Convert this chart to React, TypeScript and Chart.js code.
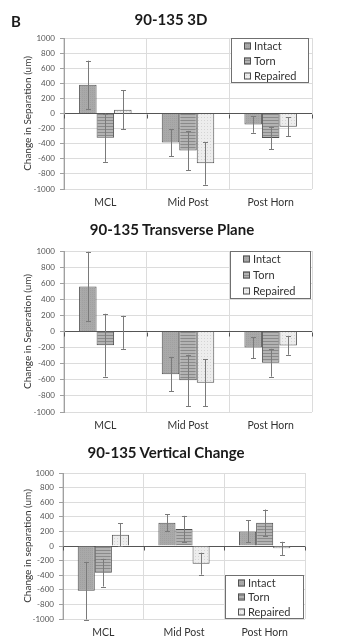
import React, { useEffect, useRef } from 'react';
import { Chart, registerables } from 'chart.js';
Chart.register(...registerables);

const categories = ['MCL', 'Mid Post', 'Post Horn'];
const seriesNames = ['Intact', 'Torn', 'Repaired'];
const yMin = -1000;
const yMax = 1000;
const yStep = 200;

// Panel 1: 90-135 3D
const intact3D = [380, -385, -145];
const torn3D = [-320, -490, -325];
const repaired3D = [50, -660, -175];
const intact3DErr = [320, 180, 110];
const torn3DErr = [320, 260, 150];
const repaired3DErr = [255, 283, 125];

// Panel 2: 90-135 Transverse Plane
const intactTP = [560, -530, -200];
const tornTP = [-170, -607, -388];
const repairedTP = [-10, -636, -174];
const intactTPErr = [430, 215, 130];
const tornTPErr = [390, 318, 173];
const repairedTPErr = [205, 290, 115];

// Panel 3: 90-135 Vertical Change
const intactVC = [-612, 320, 200];
const tornVC = [-365, 233, 320];
const repairedVC = [155, -242, -32];
const intactVCErr = [395, 115, 150];
const tornVCErr = [190, 180, 180];
const repairedVCErr = [155, 150, 90];

const FONT = 'Lato, "Open Sans", sans-serif';

function makePatterns() {
  const mk = (w: number, h: number, draw: (c: CanvasRenderingContext2D) => void) => {
    const cv = document.createElement('canvas');
    cv.width = w;
    cv.height = h;
    const c = cv.getContext('2d')!;
    draw(c);
    return c.createPattern(cv, 'repeat')!;
  };
  const intact = mk(2, 2, (c) => {
    c.fillStyle = '#a9a9a9';
    c.fillRect(0, 0, 2, 2);
    c.fillStyle = '#a0a0a0';
    c.fillRect(0, 0, 1, 1);
  });
  const torn = mk(3, 3, (c) => {
    c.fillStyle = '#b3b3b3';
    c.fillRect(0, 0, 3, 3);
    c.fillStyle = '#8a8a8a';
    c.fillRect(0, 0, 3, 1);
  });
  const repaired = mk(3, 3, (c) => {
    c.fillStyle = '#ededed';
    c.fillRect(0, 0, 3, 3);
    c.fillStyle = '#d4d4d4';
    c.fillRect(0, 0, 1, 1);
  });
  return [intact, torn, repaired];
}

type PanelProps = {
  top: number;
  height: number;
  plotLeft: number;
  plotTop: number;
  plotBottom: number;
  plotRight: number;
  yTitle: string;
  values: number[][];
  errors: number[][];
  legendRect: { x: number; y: number; w: number; h: number };
  legendRows: number[];
};

function Panel(p: PanelProps) {
  const ref = useRef<HTMLCanvasElement>(null);
  useEffect(() => {
    const patterns = makePatterns();
    const errorPlugin = {
      id: 'errbars',
      afterDatasetsDraw(chart: any) {
        const ctx = chart.ctx;
        const ys = chart.scales.y;
        const xs = chart.scales.x;
        ctx.save();
        chart.data.datasets.forEach((ds: any, di: number) => {
          const meta = chart.getDatasetMeta(di);
          meta.data.forEach((el: any, i: number) => {
            const v = ds.data[i];
            const e = ds.errors[i];
            const yt = ys.getPixelForValue(v + e);
            const yb = ys.getPixelForValue(v - e);
            const x = Math.round(el.x) + 0.5;
            ctx.strokeStyle = '#7a7a7a';
            ctx.lineWidth = 1;
            ctx.beginPath();
            ctx.moveTo(x, yt);
            ctx.lineTo(x, yb);
            ctx.moveTo(x - 2.5, Math.round(yt) + 0.5);
            ctx.lineTo(x + 2.5, Math.round(yt) + 0.5);
            ctx.moveTo(x - 2.5, Math.round(yb) + 0.5);
            ctx.lineTo(x + 2.5, Math.round(yb) + 0.5);
            ctx.stroke();
          });
        });
        const y0 = Math.round(ys.getPixelForValue(0)) + 0.5;
        ctx.strokeStyle = '#555';
        ctx.beginPath();
        for (let i = 0; i <= categories.length; i++) {
          const x = Math.round(xs.getPixelForValue(i - 0.5)) + 0.5;
          ctx.moveTo(x, y0);
          ctx.lineTo(x, y0 + 4);
        }
        ctx.stroke();
        ctx.restore();
      },
      afterDraw(chart: any) {
        const ctx = chart.ctx;
        const r = p.legendRect;
        ctx.save();
        ctx.fillStyle = '#ffffff';
        ctx.fillRect(r.x, r.y, r.w, r.h);
        ctx.strokeStyle = '#707070';
        ctx.lineWidth = 1;
        ctx.strokeRect(r.x + 0.5, r.y + 0.5, r.w - 1, r.h - 1);
        ctx.font = `11px ${FONT}`;
        ctx.textBaseline = 'middle';
        ctx.textAlign = 'left';
        seriesNames.forEach((name, i) => {
          const cy = r.y + p.legendRows[i];
          const sx = r.x + 13;
          ctx.fillStyle = patterns[i];
          ctx.fillRect(sx, cy - 3.5, 7, 7);
          ctx.strokeStyle = '#505050';
          ctx.strokeRect(sx + 0.5, cy - 3, 6, 6);
          ctx.fillStyle = '#333';
          ctx.fillText(name, sx + 10, cy + 0.5);
        });
        ctx.restore();
      },
    };
    const chart = new Chart(ref.current!, {
      type: 'bar',
      data: {
        labels: categories,
        datasets: seriesNames.map((name, i) => ({
          label: name,
          data: p.values[i],
          errors: p.errors[i],
          backgroundColor: patterns[i],
          borderColor: '#505050',
          borderWidth: 1,
          categoryPercentage: 0.635,
          barPercentage: 1,
        })) as any,
      },
      options: {
        responsive: false,
        animation: false,
        devicePixelRatio: 1,
        layout: { padding: { top: p.plotTop, left: 0, right: 361 - p.plotRight, bottom: 0 } },
        plugins: { legend: { display: false }, tooltip: { enabled: false }, title: { display: false } },
        scales: {
          x: {
            grid: { color: '#dcdcdc', drawTicks: false, offset: true },
            border: { display: false },
            ticks: { font: { family: FONT, size: 10.5 }, color: '#333', padding: 7 },
            afterFit: (s: any) => {
              s.height = p.height - p.plotBottom;
            },
          },
          y: {
            min: yMin,
            max: yMax,
            ticks: {
              stepSize: yStep,
              font: { family: FONT, size: 8 },
              color: '#555',
              padding: 5,
              callback: (v: any) => String(v),
            },
            grid: {
              color: (c: any) => (c.tick && c.tick.value === 0 ? '#555' : '#dcdcdc'),
              tickLength: 4,
              tickColor: '#a0a0a0',
            },
            border: { color: '#a0a0a0' },
            title: {
              display: true,
              text: p.yTitle,
              font: { family: FONT, size: 10 },
              color: '#333',
              padding: { top: 22, bottom: 0 },
            },
            afterFit: (s: any) => {
              s.width = p.plotLeft;
            },
          },
        },
      },
      plugins: [errorPlugin],
    } as any);
    return () => chart.destroy();
  }, []);
  return (
    <canvas
      ref={ref}
      width={361}
      height={p.height}
      style={{ position: 'absolute', left: 0, top: p.top, width: 361, height: p.height }}
    />
  );
}

const titleStyle = (cx: number, cy: number): React.CSSProperties => ({
  position: 'absolute',
  left: cx,
  top: cy,
  transform: 'translate(-50%, -50%)',
  font: `bold 15px ${FONT}`,
  color: '#1a1a1a',
  whiteSpace: 'nowrap',
  lineHeight: '18px',
});

export default function App() {
  return (
    <div style={{ position: 'absolute', left: 0, top: 0, width: 361, height: 643, background: '#fff', overflow: 'hidden' }}>
      <Panel
        top={0}
        height={212}
        plotLeft={64}
        plotTop={38}
        plotBottom={189}
        plotRight={312}
        yTitle="Change in Separation (um)"
        values={[intact3D, torn3D, repaired3D]}
        errors={[intact3DErr, torn3DErr, repaired3DErr]}
        legendRect={{ x: 231, y: 38, w: 78, h: 45 }}
        legendRows={[8, 23, 38]}
      />
      <Panel
        top={212}
        height={218}
        plotLeft={64}
        plotTop={39}
        plotBottom={200}
        plotRight={312}
        yTitle="Change in Seperation (um)"
        values={[intactTP, tornTP, repairedTP]}
        errors={[intactTPErr, tornTPErr, repairedTPErr]}
        legendRect={{ x: 230, y: 39, w: 81, h: 48 }}
        legendRows={[8, 24, 40]}
      />
      <Panel
        top={430}
        height={213}
        plotLeft={63}
        plotTop={43}
        plotBottom={189}
        plotRight={305}
        yTitle="Change in separation (um)"
        values={[intactVC, tornVC, repairedVC]}
        errors={[intactVCErr, tornVCErr, repairedVCErr]}
        legendRect={{ x: 225, y: 145, w: 79, h: 44 }}
        legendRows={[8, 22, 37]}
      />
      <div style={{ position: 'absolute', left: 16, top: 21, transform: 'translate(-50%, -50%)', font: `bold 15px ${FONT}`, color: '#1a1a1a', lineHeight: '18px' }}>B</div>
      <div style={titleStyle(171, 19)}>90-135 3D</div>
      <div style={titleStyle(172, 229)}>90-135 Transverse Plane</div>
      <div style={titleStyle(166, 452)}>90-135 Vertical Change</div>
    </div>
  );
}
